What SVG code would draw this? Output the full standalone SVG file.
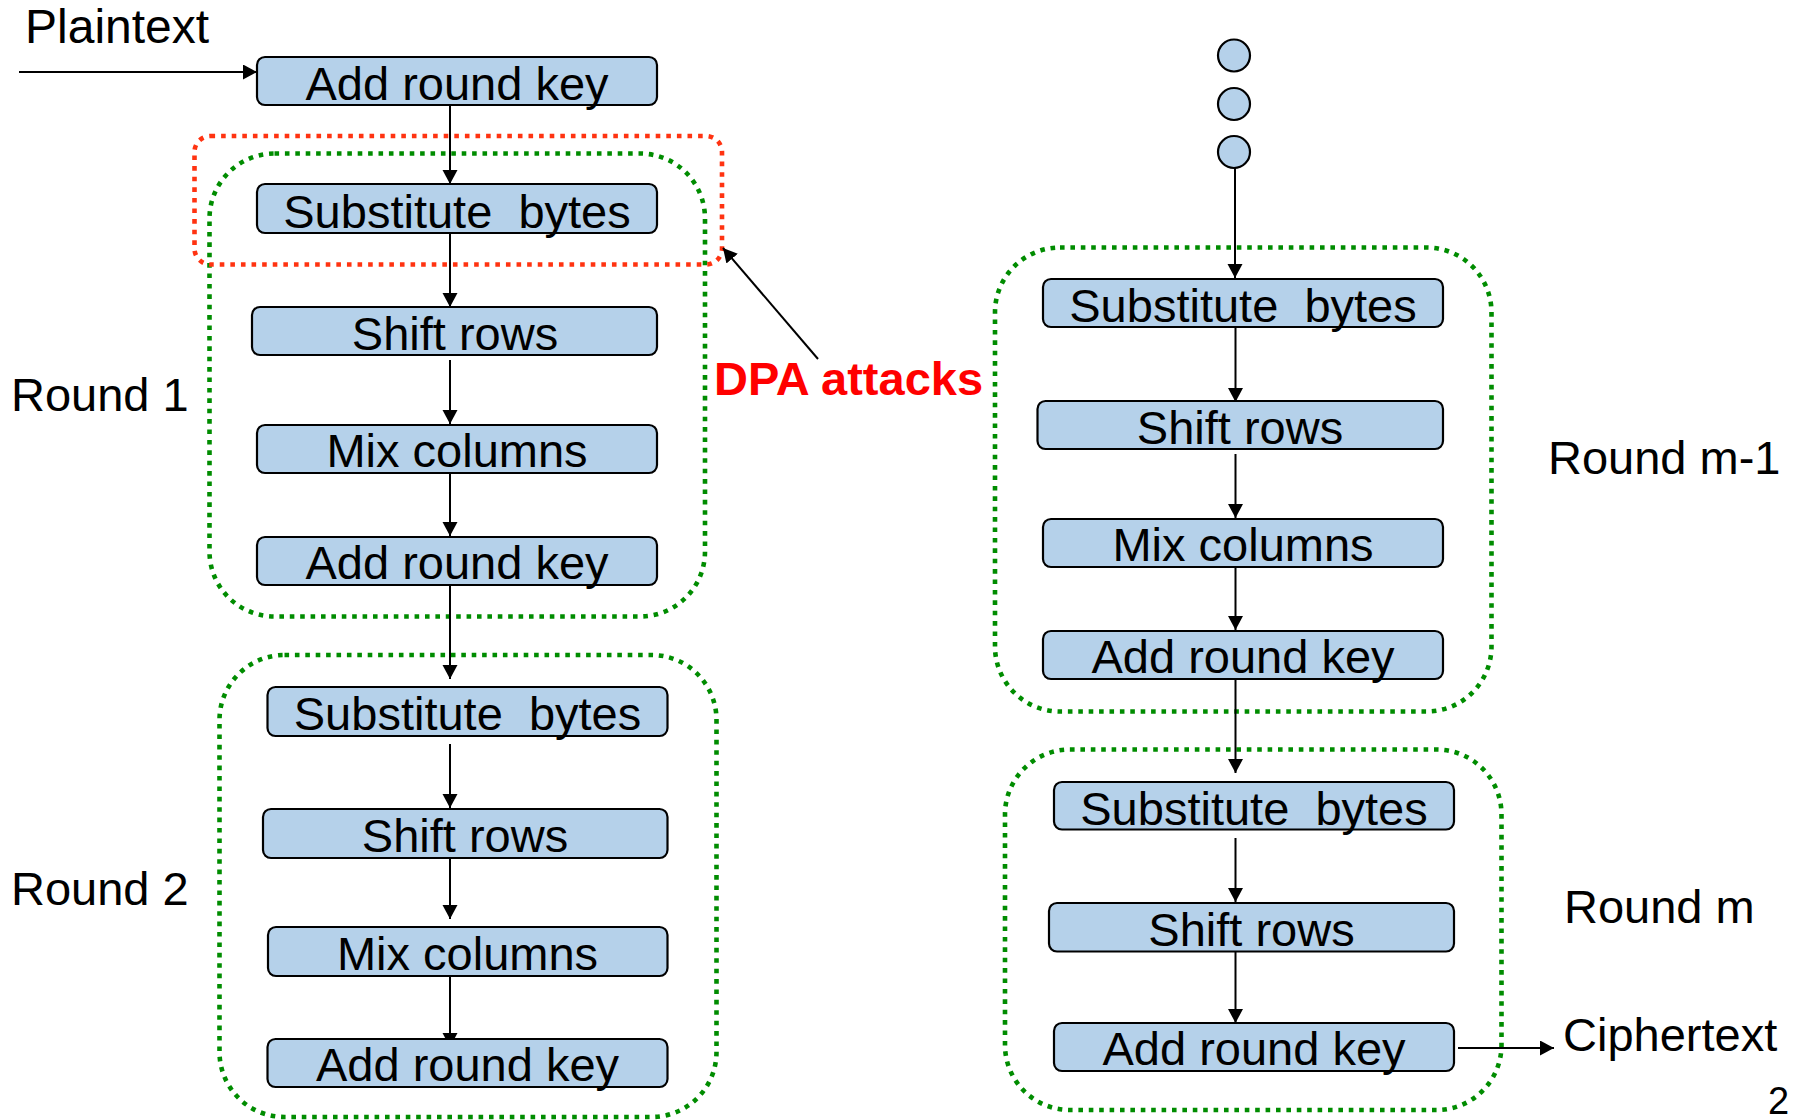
<svg xmlns="http://www.w3.org/2000/svg" width="1798" height="1120" viewBox="0 0 1798 1120">
<style>
  text { font-family: "Liberation Sans", Arial, sans-serif; font-size: 47px; fill: #000; }
  .box rect { fill: #B5D1EA; stroke: #000; stroke-width: 2.2; }
  .box text { text-anchor: middle; }
  .dot { fill: #B5D1EA; stroke: #000; stroke-width: 2.2; }
  .grp { fill: none; stroke: #008C00; stroke-width: 4.6; stroke-dasharray: 4.6 5.8; }
  .red { fill: none; stroke: #FF3311; stroke-width: 4.6; stroke-dasharray: 4.6 6; }
  .conn line { stroke: #000; stroke-width: 2; marker-end: url(#arr); }
  .dpa { fill: #FF0000; font-weight: bold; font-size: 47px; }
</style>
<defs>
  <marker id="arr" markerUnits="userSpaceOnUse" markerWidth="16" markerHeight="16" refX="14" refY="7.5" orient="auto">
    <path d="M0,0 L14,7.5 L0,15 z" fill="#000"/>
  </marker>
</defs>
<rect width="1798" height="1120" fill="#fff"/>

<!-- round groupings -->
<g id="round1-frame"><rect class="grp" x="209.5" y="153.5" width="495.5" height="463" rx="65"/></g>
<g id="round2-frame"><rect class="grp" x="219.5" y="655" width="497" height="462" rx="65"/></g>
<g id="roundm1-frame"><rect class="grp" x="995" y="247.5" width="496.5" height="464" rx="65"/></g>
<g id="roundm-frame"><rect class="grp" x="1005" y="749.5" width="496.5" height="360.5" rx="65"/></g>
<g id="dpa-frame"><rect class="red" x="194.5" y="136" width="527.5" height="128.5" rx="16"/></g>

<!-- connectors -->
<g id="connectors" class="conn">
  <line x1="19" y1="72" x2="257" y2="72"/>
  <line x1="450" y1="105" x2="450" y2="184"/>
  <line x1="450" y1="233" x2="450" y2="307"/>
  <line x1="450" y1="360" x2="450" y2="424"/>
  <line x1="450" y1="473" x2="450" y2="536"/>
  <line x1="450" y1="585" x2="450" y2="679"/>
  <line x1="450" y1="744" x2="450" y2="808"/>
  <line x1="450" y1="857" x2="450" y2="919"/>
  <line x1="450" y1="968" x2="450" y2="1047"/>
  <line x1="1235" y1="168" x2="1235" y2="278"/>
  <line x1="1235.5" y1="327" x2="1235.5" y2="402"/>
  <line x1="1235.5" y1="454" x2="1235.5" y2="518"/>
  <line x1="1235.5" y1="567" x2="1235.5" y2="630"/>
  <line x1="1235.5" y1="679" x2="1235.5" y2="773"/>
  <line x1="1235.5" y1="838" x2="1235.5" y2="902"/>
  <line x1="1235.5" y1="951" x2="1235.5" y2="1023"/>
  <line x1="1458" y1="1048" x2="1554" y2="1048"/>
  <line x1="818" y1="359" x2="723" y2="248"/>
</g>

<!-- left column -->
<g id="ark0" class="box"><rect x="257" y="57" width="400" height="48" rx="8"/><text x="457" y="100">Add round key</text></g>
<g id="sb1" class="box"><rect x="257" y="184" width="400" height="49" rx="8"/><text x="457" y="228" xml:space="preserve">Substitute  bytes</text></g>
<g id="sr1" class="box"><rect x="252" y="307" width="405" height="48" rx="8"/><text x="455" y="350">Shift rows</text></g>
<g id="mc1" class="box"><rect x="257" y="425" width="400" height="48" rx="8"/><text x="457" y="467">Mix columns</text></g>
<g id="ark1" class="box"><rect x="257" y="537" width="400" height="48" rx="8"/><text x="457" y="579">Add round key</text></g>
<g id="sb2" class="box"><rect x="267.5" y="687" width="400" height="49" rx="8"/><text x="467.5" y="730" xml:space="preserve">Substitute  bytes</text></g>
<g id="sr2" class="box"><rect x="263" y="809" width="404.5" height="49" rx="8"/><text x="465" y="852">Shift rows</text></g>
<g id="mc2" class="box"><rect x="268" y="927" width="399.5" height="49" rx="8"/><text x="467.5" y="970">Mix columns</text></g>
<g id="ark2" class="box"><rect x="267.5" y="1039" width="400" height="48" rx="8"/><text x="467.5" y="1081">Add round key</text></g>

<!-- right column -->
<g id="ellipsis">
  <circle class="dot" cx="1234" cy="55.5" r="16"/>
  <circle class="dot" cx="1234" cy="104" r="16"/>
  <circle class="dot" cx="1234" cy="152" r="16"/>
</g>
<g id="sbm1" class="box"><rect x="1043" y="279" width="400" height="48" rx="8"/><text x="1243" y="322" xml:space="preserve">Substitute  bytes</text></g>
<g id="srm1" class="box"><rect x="1037.5" y="401" width="405.5" height="48" rx="8"/><text x="1240" y="444">Shift rows</text></g>
<g id="mcm1" class="box"><rect x="1043" y="519" width="400" height="48" rx="8"/><text x="1243" y="561">Mix columns</text></g>
<g id="arkm1" class="box"><rect x="1043" y="631" width="400" height="48" rx="8"/><text x="1243" y="673">Add round key</text></g>
<g id="sbm" class="box"><rect x="1054" y="782" width="400" height="47.5" rx="8"/><text x="1254" y="825" xml:space="preserve">Substitute  bytes</text></g>
<g id="srm" class="box"><rect x="1049" y="903" width="405" height="48.5" rx="8"/><text x="1251.5" y="946">Shift rows</text></g>
<g id="arkm" class="box"><rect x="1054" y="1023" width="400" height="48" rx="8"/><text x="1254" y="1065">Add round key</text></g>

<!-- labels -->
<g id="labels">
  <text x="25" y="43" style="font-size:48px">Plaintext</text>
  <text x="11" y="411">Round 1</text>
  <text x="11" y="905">Round 2</text>
  <text x="1548" y="474">Round m-1</text>
  <text x="1564" y="923">Round m</text>
  <text x="1563" y="1051">Ciphertext</text>
  <text class="dpa" x="714" y="395">DPA attacks</text>
  <text x="1768" y="1114" style="font-size:38px">2</text>
</g>
</svg>
